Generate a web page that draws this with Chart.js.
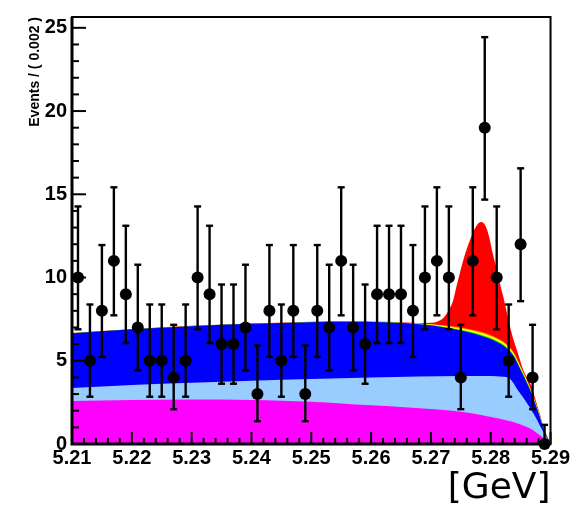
<!DOCTYPE html>
<html>
<head>
<meta charset="utf-8">
<script src="https://cdn.jsdelivr.net/npm/chart.js@4.4.1/dist/chart.umd.min.js"></script>
<style>
  html, body { margin: 0; padding: 0; background: #fff; }
  #wrap { width: 572px; height: 509px; position: relative; }
</style>
</head>
<body>
<div id="wrap"><canvas id="c"></canvas></div>
<script>
// Mass bins, 0.002 GeV wide, from 5.21 to 5.29 GeV
const binCenters = [5.211, 5.213, 5.215, 5.217, 5.219, 5.221, 5.223, 5.225, 5.227, 5.229,
                    5.231, 5.233, 5.235, 5.237, 5.239, 5.241, 5.243, 5.245, 5.247, 5.249,
                    5.251, 5.253, 5.255, 5.257, 5.259, 5.261, 5.263, 5.265, 5.267, 5.269,
                    5.271, 5.273, 5.275, 5.277, 5.279, 5.281, 5.283, 5.285, 5.287, 5.289];
const counts = [10, 5, 8, 11, 9, 7, 5, 5, 4, 5,
                10, 9, 6, 6, 7, 3, 8, 5, 8, 3,
                8, 7, 11, 7, 6, 9, 9, 9, 8, 10,
                11, 10, 4, 11, 19, 10, 5, 12, 4, 0];
// Asymmetric Poisson error bars (down / up)
const errLow = [3.11, 2.16, 2.77, 3.27, 2.94, 2.58, 2.16, 2.16, 1.91, 2.16,
                3.11, 2.94, 2.38, 2.38, 2.58, 1.63, 2.77, 2.16, 2.77, 1.63,
                2.77, 2.58, 3.27, 2.58, 2.38, 2.94, 2.94, 2.94, 2.77, 3.11,
                3.27, 3.11, 1.91, 3.27, 4.32, 3.11, 2.16, 3.42, 1.91, 0];
const errHigh = [4.27, 3.38, 3.95, 4.42, 4.11, 3.77, 3.38, 3.38, 3.16, 3.38,
                 4.27, 4.11, 3.58, 3.58, 3.77, 2.92, 3.95, 3.38, 3.95, 2.92,
                 3.95, 3.77, 4.42, 3.77, 3.58, 4.11, 4.11, 4.11, 3.95, 4.27,
                 4.42, 4.27, 3.16, 4.42, 5.44, 4.27, 3.38, 4.56, 3.16, 1.15];

const xTickValues = [5.21, 5.22, 5.23, 5.24, 5.25, 5.26, 5.27, 5.28, 5.29];
const yTickValues = [0, 5, 10, 15, 20, 25];

// Stacked fit components: upper edge of each layer, [mass, events]
const combinatorialTop = [[5.210, 2.58], [5.220, 2.64], [5.230, 2.67], [5.240, 2.65], [5.245, 2.60],
  [5.250, 2.54], [5.255, 2.44], [5.260, 2.33], [5.265, 2.23], [5.270, 2.10], [5.2735, 2.00],
  [5.2765, 1.86], [5.279, 1.69], [5.2815, 1.51], [5.2836, 1.33], [5.285, 1.17], [5.2863, 0.97],
  [5.2872, 0.80], [5.288, 0.58], [5.2886, 0.42], [5.2892, 0.20], [5.290, 0]];
const continuumTop = [[5.210, 3.37], [5.220, 3.54], [5.230, 3.68], [5.240, 3.80], [5.250, 3.90],
  [5.260, 3.99], [5.268, 4.06], [5.275, 4.09], [5.280, 4.08], [5.282, 4.04], [5.283, 3.98],
  [5.2847, 3.15], [5.2858, 2.60], [5.2872, 1.80], [5.2886, 0.85], [5.2895, 0.30], [5.290, 0]];

// Generic B background and the small peaking components share one mass grid
const bbMass = [5.210, 5.220, 5.230, 5.240, 5.250, 5.256, 5.262, 5.266, 5.269, 5.272,
                5.275, 5.278, 5.2805, 5.2825, 5.2838, 5.2850, 5.2865, 5.288, 5.289, 5.290];
const bbTop = [6.65, 6.90, 7.08, 7.22, 7.32, 7.34, 7.31, 7.25, 7.16, 7.02,
               6.82, 6.55, 6.22, 5.80, 5.30, 4.45, 3.30, 1.85, 0.75, 0];
const greenPart = [0, 0, 0, 0, 0, 0, 0, 0.005, 0.015, 0.03,
                   0.045, 0.06, 0.065, 0.065, 0.06, 0.055, 0.045, 0.03, 0.015, 0];
const yellowPart = [0, 0, 0, 0, 0, 0, 0, 0.01, 0.03, 0.06,
                    0.09, 0.11, 0.12, 0.12, 0.11, 0.10, 0.08, 0.05, 0.03, 0];
const orangePart = [0, 0, 0, 0, 0, 0, 0.005, 0.01, 0.02, 0.03,
                    0.04, 0.05, 0.055, 0.055, 0.05, 0.045, 0.035, 0.025, 0.01, 0];

// Full fit (signal on top of everything)
const totalTop = [[5.210, 6.67], [5.230, 7.10], [5.250, 7.35], [5.256, 7.37], [5.262, 7.34],
  [5.266, 7.30], [5.268, 7.27], [5.270, 7.28], [5.2712, 7.38], [5.2722, 7.62], [5.2730, 8.05],
  [5.2737, 8.60], [5.2743, 9.50], [5.2750, 10.5], [5.2758, 11.5], [5.2768, 12.5], [5.2776, 13.1],
  [5.2784, 13.33], [5.2791, 13.12], [5.2797, 12.5], [5.2803, 11.5], [5.2810, 10.5], [5.2816, 9.55],
  [5.2823, 8.55], [5.2830, 7.40], [5.2837, 6.40], [5.2845, 5.50], [5.2855, 4.40], [5.2867, 3.55],
  [5.288, 2.05], [5.289, 0.85], [5.290, 0]];

// Build stacked layer edges
const greenTop = bbMass.map((m, i) => ({x: m, y: bbTop[i] + greenPart[i]}));
const yellowTop = bbMass.map((m, i) => ({x: m, y: bbTop[i] + greenPart[i] + yellowPart[i]}));
const orangeTop = bbMass.map((m, i) => ({x: m, y: bbTop[i] + greenPart[i] + yellowPart[i] + orangePart[i]}));
const pairs = arr => arr.map(([x, y]) => ({x, y}));

function layer(data, color, order) {
  return {
    data, order,
    backgroundColor: color,
    borderWidth: 0,
    pointRadius: 0,
    pointHoverRadius: 0,
    fill: 'origin',
    cubicInterpolationMode: 'monotone'
  };
}

// Frame and inward-pointing ticks, ROOT style
const frameTicks = {
  id: 'frameTicks',
  beforeDatasetsDraw(chart) {
    const {ctx, chartArea: a, scales: {x, y}} = chart;
    ctx.save();
    ctx.strokeStyle = '#000';
    ctx.lineCap = 'butt';
    ctx.lineWidth = 2;
    // x ticks
    for (let k = 0; k <= 40; k++) {
      const v = 5.21 + k * 0.002;
      const px = x.getPixelForValue(v);
      const len = (k % 5 === 0) ? 12 : 6;
      ctx.beginPath(); ctx.moveTo(px, a.bottom); ctx.lineTo(px, a.bottom - len); ctx.stroke();
    }
    // y ticks
    for (let v = 0; v <= 25; v++) {
      const py = y.getPixelForValue(v);
      const len = (v % 5 === 0) ? 14 : 7;
      ctx.beginPath(); ctx.moveTo(a.left, py); ctx.lineTo(a.left + len, py); ctx.stroke();
    }
    // frame
    ctx.lineWidth = 2;
    ctx.strokeRect(a.left, a.top, a.right - a.left, a.bottom - a.top);
    ctx.lineWidth = 3;
    ctx.beginPath();
    ctx.moveTo(a.left, a.top); ctx.lineTo(a.left, a.bottom); ctx.lineTo(a.right, a.bottom);
    ctx.stroke();
    ctx.restore();
  }
};

// Vertical error bars with short caps
const errorBars = {
  id: 'errorBars',
  beforeDatasetsDraw(chart) {
    const {ctx, scales: {x, y}} = chart;
    ctx.save();
    ctx.strokeStyle = '#000';
    ctx.lineWidth = 2.4;
    binCenters.forEach((c, i) => {
      const px = x.getPixelForValue(c);
      const top = y.getPixelForValue(counts[i] + errHigh[i]);
      const bot = y.getPixelForValue(counts[i] - errLow[i]);
      ctx.beginPath(); ctx.moveTo(px, top); ctx.lineTo(px, bot); ctx.stroke();
      ctx.beginPath(); ctx.moveTo(px - 3.5, top); ctx.lineTo(px + 3.5, top); ctx.stroke();
      if (errLow[i] > 0) {
        ctx.beginPath(); ctx.moveTo(px - 3.5, bot); ctx.lineTo(px + 3.5, bot); ctx.stroke();
      }
    });
    ctx.restore();
  }
};

const tickFont = {family: '"Liberation Sans", Arial, sans-serif', size: 20, weight: 'bold'};

new Chart(document.getElementById('c'), {
  type: 'line',
  data: {
    datasets: [
      {
        data: binCenters.map((c, i) => ({x: c, y: counts[i]})),
        order: 0,
        showLine: false,
        pointRadius: 6,
        pointHoverRadius: 6,
        pointBackgroundColor: '#000',
        pointBorderWidth: 0,
        clip: false
      },
      layer(pairs(combinatorialTop), '#ff00ff', 1),
      layer(pairs(continuumTop), '#99ccff', 2),
      layer(bbMass.map((m, i) => ({x: m, y: bbTop[i]})), '#0000ff', 3),
      layer(greenTop, '#00ee00', 4),
      layer(yellowTop, '#ffff00', 5),
      layer(orangeTop, '#ff9900', 6),
      layer(pairs(totalTop), '#ff0000', 7)
    ]
  },
  options: {
    responsive: true,
    maintainAspectRatio: false,
    animation: false,
    events: [],
    layout: {padding: {top: 13, right: 20, left: 0, bottom: 0}},
    plugins: {
      legend: {display: false},
      tooltip: {enabled: false},
      filler: {drawTime: 'beforeDatasetsDraw'}
    },
    scales: {
      x: {
        type: 'linear',
        min: 5.21,
        max: 5.29,
        afterBuildTicks: s => { s.ticks = xTickValues.map(v => ({value: v})); },
        afterFit: s => { s.height = 65; },
        grid: {display: false, drawTicks: false},
        border: {display: false},
        ticks: {
          font: tickFont, color: '#000', padding: 2, maxRotation: 0, autoSkip: false,
          callback: v => v.toFixed(2)
        },
        title: {
          display: true, text: '[GeV]', align: 'end', color: '#000',
          font: {family: '"DejaVu Sans", sans-serif', size: 36, weight: 'normal'},
          padding: {top: 0, bottom: -1}
        }
      },
      y: {
        type: 'linear',
        min: 0,
        max: 25.65,
        afterBuildTicks: s => { s.ticks = yTickValues.map(v => ({value: v})); },
        afterFit: s => { s.width = 72; },
        grid: {display: false, drawTicks: false},
        border: {display: false},
        ticks: {font: tickFont, color: '#000', padding: 5, callback: v => String(v)},
        title: {
          display: true, text: 'Events / ( 0.002 )', align: 'end', color: '#000',
          font: {family: '"Liberation Sans", Arial, sans-serif', size: 14, weight: 'bold'},
          padding: {top: 27, bottom: 0}
        }
      }
    }
  },
  plugins: [frameTicks, errorBars]
});
</script>
</body>
</html>
